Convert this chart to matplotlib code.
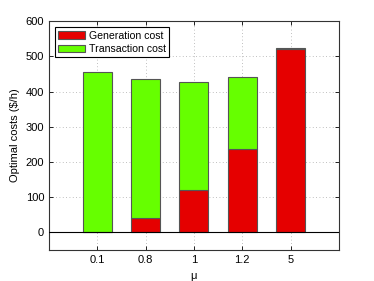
import matplotlib
matplotlib.use("Agg")
import matplotlib.pyplot as plt
import numpy as np

mu_labels = ["0.1", "0.8", "1", "1.2", "5"]
generation_cost = [0, 40, 120, 237, 520]
transaction_cost = [455, 396, 308, 203, 3]

plt.rcParams['font.family'] = ['Liberation Sans', 'DejaVu Sans']
plt.rcParams['font.size'] = 8

fig = plt.figure(figsize=(3.74, 2.81), dpi=100)
ax = fig.add_axes([0.131, 0.110, 0.775, 0.815])

x = np.arange(1, len(mu_labels) + 1)
ax.bar(x, generation_cost, width=0.6, color="#e50000", edgecolor="#555555",
       linewidth=0.8, label="Generation cost", zorder=3)
ax.bar(x, transaction_cost, width=0.6, bottom=generation_cost, color="#66ff00",
       edgecolor="#555555", linewidth=0.8, label="Transaction cost", zorder=3)
ax.axhline(0, color="black", linewidth=0.8, zorder=4)

ax.set_xlim(0, 6)
ax.set_ylim(-50, 600)
ax.set_xticks(x)
ax.set_xticklabels(mu_labels)
ax.set_yticks([0, 100, 200, 300, 400, 500, 600])
ax.set_xlabel("μ")
ax.set_ylabel("Optimal costs ($/h)")
ax.grid(True, linestyle=(0, (1, 3)), color="#aaaaaa", linewidth=0.6, zorder=0)
ax.tick_params(direction="in", top=True, right=True, length=3, width=0.6)
for s in ax.spines.values():
    s.set_linewidth(0.8)
    s.set_color("#333333")

leg = ax.legend(loc="upper left", fancybox=False, framealpha=1, fontsize=7.6,
                edgecolor="black", borderpad=0.3, handlelength=2.5,
                handletextpad=0.35, borderaxespad=0.6, labelspacing=0.35)
leg.get_frame().set_linewidth(0.8)

fig.savefig("out.png", dpi=100)
